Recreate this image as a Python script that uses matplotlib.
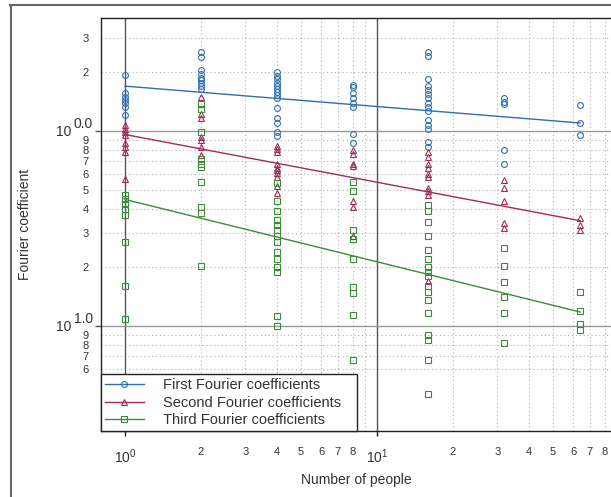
import matplotlib
matplotlib.use('Agg')
import matplotlib.pyplot as plt
from matplotlib.lines import Line2D
import matplotlib.ticker as mticker

plt.rcParams['font.family'] = ['Liberation Sans', 'DejaVu Sans']
plt.rcParams['mathtext.fontset'] = 'custom'
plt.rcParams['mathtext.rm'] = 'Liberation Sans'
plt.rcParams['mathtext.it'] = 'Liberation Sans:italic'
plt.rcParams['mathtext.bf'] = 'Liberation Sans:bold'

# ---------------- data ----------------
people = [1, 2, 4, 8, 16, 32, 64]

first_coef = [
    [1.94, 1.56, 1.50, 1.44, 1.39, 1.33, 1.21],
    [2.55, 2.40, 2.06, 1.96, 1.88, 1.83, 1.77, 1.70, 1.65],
    [2.02, 1.92, 1.84, 1.76, 1.70, 1.64, 1.58, 1.53, 1.48, 1.31, 1.16, 1.10, 0.99, 0.94],
    [1.72, 1.68, 1.56, 1.47, 1.39, 1.33, 0.97, 0.865],
    [2.55, 2.42, 1.86, 1.70, 1.62, 1.55, 1.47, 1.39, 1.33, 1.26, 1.14, 1.08, 1.03, 0.88, 0.83],
    [1.47, 1.41, 1.38, 0.80, 0.68],
    [1.36, 1.10, 0.95],
]
second_coef = [
    [1.07, 1.03, 0.99, 0.95, 0.865, 0.83, 0.78, 0.57],
    [1.49, 1.22, 1.16, 0.935, 0.90, 0.83, 0.75],
    [0.84, 0.81, 0.78, 0.68, 0.65, 0.63, 0.61, 0.58, 0.52, 0.48],
    [0.80, 0.76, 0.68, 0.66, 0.44, 0.41, 0.29],
    [0.78, 0.74, 0.68, 0.65, 0.60, 0.58, 0.51, 0.49, 0.47, 0.17],
    [0.56, 0.51, 0.44, 0.336, 0.317],
    [0.36, 0.33, 0.31],
]
third_coef = [
    [0.47, 0.446, 0.425, 0.40, 0.37, 0.27, 0.16, 0.109],
    [1.38, 1.30, 0.99, 0.715, 0.68, 0.656, 0.55, 0.41, 0.38, 0.204],
    [0.54, 0.44, 0.39, 0.35, 0.33, 0.31, 0.29, 0.27, 0.24, 0.22, 0.20, 0.19, 0.113, 0.10],
    [0.55, 0.49, 0.31, 0.28, 0.22, 0.159, 0.147, 0.114, 0.067],
    [0.42, 0.39, 0.34, 0.29, 0.245, 0.22, 0.20, 0.19, 0.18, 0.16, 0.15, 0.136, 0.116,
     0.09, 0.085, 0.067, 0.045],
    [0.25, 0.203, 0.168, 0.141, 0.117, 0.082],
    [0.15, 0.12, 0.103, 0.095],
]

fit_people = [1, 64]
first_fit = [1.70, 1.10]
second_fit = [0.96, 0.347]
third_fit = [0.446, 0.118]

series_labels = ['First Fourier coefficients', 'Second Fourier coefficients',
                 'Third Fourier coefficients']

x_minor_ticks = [2, 3, 4, 5, 6, 7, 8, 9, 20, 30, 40, 50, 60, 70, 80]
x_minor_labels = ['2', '3', '4', '5', '6', '7', '8', '', '2', '3', '4', '5', '6', '7', '8']
x_major_ticks = [1, 10]
x_major_labels = ['$10^{0}$', '$10^{1}$']

y_minor_ticks = [0.06, 0.07, 0.08, 0.09, 0.2, 0.3, 0.4, 0.5, 0.6, 0.7, 0.8, 0.9, 2, 3]
y_minor_labels = ['6', '7', '8', '9', '2', '3', '4', '5', '6', '7', '8', '9', '2', '3']
y_major_ticks = [0.1, 1]
y_major_sup = ['1.0', '0.0']

# ---------------- style ----------------
W, H = 611, 497
colors = ['#2f6fad', '#a02c5a', '#3f8a3a']
markers = ['o', '^', 's']
text_col = '#333333'
PX = 0.72  # points per pixel at dpi 100

fig = plt.figure(figsize=(W / 100, H / 100), dpi=100)
ax = fig.add_axes([101 / W, (H - 431) / H, (W - 101) / W, (431 - 18) / H])
ax.set_xscale('log')
ax.set_yscale('log')
ax.set_xlim(0.803, 84.85)
ax.set_ylim(0.02896, 3.80)

# grid: minor dotted
for xv in x_minor_ticks:
    ax.axvline(xv, color='#b0b0b0', lw=0.8, ls=(0, (1, 2.5)), zorder=0)
for yv in y_minor_ticks:
    ax.axhline(yv, color='#b0b0b0', lw=0.8, ls=(0, (1, 2.5)), zorder=0)
# major grid
for xv in x_major_ticks:
    ax.axvline(xv, color='#555555', lw=1.0, zorder=0.5)
for yv in y_major_ticks:
    ax.axhline(yv, color='#999999', lw=1.0, zorder=0.5)

# data points
for coef, c, m in zip([first_coef, second_coef, third_coef], colors, markers):
    for xv, vals in zip(people, coef):
        ax.plot([xv] * len(vals), vals, linestyle='none', marker=m, mfc='none',
                mec=c, ms=4.2, mew=0.8, zorder=3)

# fit lines
for fit, c in zip([first_fit, second_fit, third_fit], colors):
    ax.plot(fit_people, fit, color=c, lw=1.0, zorder=4)

# spines
for s in ['top', 'left', 'bottom']:
    ax.spines[s].set_color('#222222')
    ax.spines[s].set_linewidth(1.0)
ax.spines['right'].set_visible(False)

# ticks x
ax.xaxis.set_major_locator(mticker.FixedLocator(x_major_ticks))
ax.xaxis.set_major_formatter(mticker.FixedFormatter(x_major_labels))
ax.xaxis.set_minor_locator(mticker.FixedLocator(x_minor_ticks))
ax.xaxis.set_minor_formatter(mticker.FixedFormatter(x_minor_labels))
ax.tick_params(axis='x', which='major', direction='out', length=5 * PX, width=1,
               color='#222222', pad=8, labelsize=10, labelcolor=text_col)
ax.tick_params(axis='x', which='minor', length=0, pad=11.5, labelsize=8,
               labelcolor=text_col)

# ticks y
ax.yaxis.set_major_locator(mticker.FixedLocator(y_major_ticks))
ax.yaxis.set_major_formatter(mticker.NullFormatter())
ax.yaxis.set_minor_locator(mticker.FixedLocator(y_minor_ticks))
ax.yaxis.set_minor_formatter(mticker.FixedFormatter(y_minor_labels))
ax.tick_params(axis='y', which='major', direction='out', length=6 * PX, width=1,
               color='#555555')
ax.tick_params(axis='y', which='minor', length=0, pad=9, labelsize=8,
               labelcolor=text_col)

for yv, sup in zip(y_major_ticks, y_major_sup):
    ax.annotate('10', xy=(0, yv), xycoords=('axes fraction', 'data'),
                xytext=(-30 * PX, -1 * PX), textcoords='offset points',
                ha='right', va='center', fontsize=10, color=text_col)
    ax.annotate(sup, xy=(0, yv), xycoords=('axes fraction', 'data'),
                xytext=(-27 * PX, 7 * PX), textcoords='offset points',
                ha='left', va='center', fontsize=10, color=text_col)

ax.set_xlabel('Number of people', fontsize=10, color=text_col, va='center')
ax.xaxis.set_label_coords(0.5, -49 / 413)
ax.set_ylabel('Fourier coefficient', fontsize=10, color=text_col, va='center')
ax.yaxis.set_label_coords(-76 / 510, 0.5)

# legend
handles = [Line2D([], [], color=c, marker=m, mfc='none', mec=c, ms=4.2, mew=0.8, lw=1.0)
           for c, m in zip(colors, markers)]
leg = ax.legend(handles, series_labels, loc='lower left',
                bbox_to_anchor=(0, 0, (357 - 101) / 510, (431 - 372) / 413),
                mode='expand', borderaxespad=0, fontsize=10.5, frameon=True,
                fancybox=False, edgecolor='#222222', framealpha=1,
                handlelength=2.7, handletextpad=1.3, labelspacing=0.25,
                borderpad=0.25, numpoints=1)
leg.get_frame().set_linewidth(1.0)
for t in leg.get_texts():
    t.set_color(text_col)
leg.set_zorder(10)

# outer frame
fig.add_artist(Line2D([10 / W, 1], [1 - 5 / H, 1 - 5 / H], transform=fig.transFigure,
                      color='#666666', lw=1.5))
fig.add_artist(Line2D([10.5 / W, 10.5 / W], [0, 1 - 5 / H], transform=fig.transFigure,
                      color='#666666', lw=1.5))

fig.savefig('out.png', dpi=100)
